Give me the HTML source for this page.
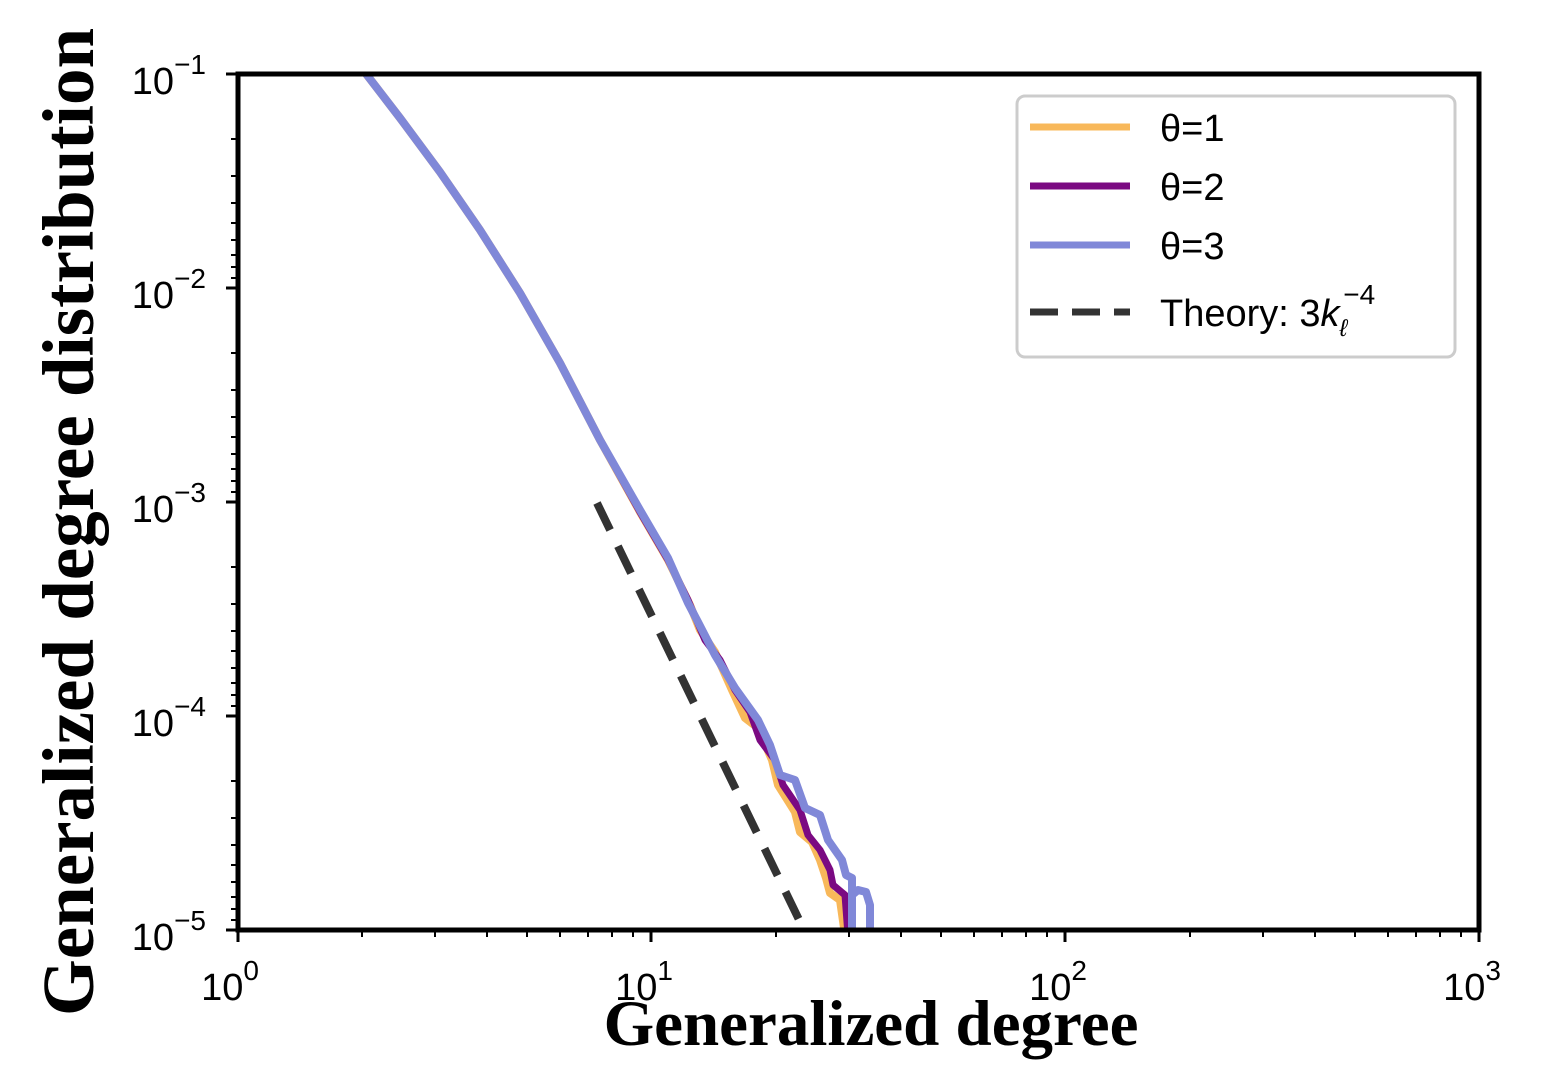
<!DOCTYPE html>
<html><head><meta charset="utf-8"><style>
html,body{margin:0;padding:0;background:#fff;}
svg{display:block;}
</style></head><body>
<svg width="1543" height="1090" xmlns="http://www.w3.org/2000/svg">
<rect width="1543" height="1090" fill="#fff"/>
<defs><clipPath id="c"><rect x="238" y="74" width="1241" height="856"/></clipPath></defs>
<g clip-path="url(#c)" fill="none" stroke-linejoin="round" stroke-linecap="butt">
<polyline stroke="#333" stroke-width="8" stroke-dasharray="30,18" points="597,503 805,932"/>
<polyline stroke="#f8b85a" stroke-width="8" points="360,66 400,118 440,172 480,230 520,293 560,363 600,440 640,512 668,560 690,605 700,630 715,652 732,690 745,718 758,728 772,760 778,785 795,812 800,832 812,842 820,860 826,878 830,893 840,900 845,935"/>
<polyline stroke="#7b0a82" stroke-width="7" points="360,66 400,118 440,172 480,230 520,293 560,363 600,440 640,512 668,560 688,600 705,640 720,660 735,690 750,712 760,740 775,760 783,785 800,810 808,835 820,850 830,870 833,885 845,895 848,935"/>
<polyline stroke="#8088d8" stroke-width="8" points="360,66 400,118 440,172 480,230 520,293 560,363 600,440 640,510 668,558 688,603 698,622 715,655 735,688 758,720 770,745 780,775 795,780 805,808 820,815 828,840 842,860 846,875 852,878 852,930"/>
<polyline stroke="#8088d8" stroke-width="8" points="852,895 858,890 866,892 870,905 870,935"/>
</g>
<rect x="238" y="74" width="1241" height="856" fill="none" stroke="#000" stroke-width="5"/>
<g stroke="#000" stroke-width="3">
<line x1="226" y1="74" x2="238" y2="74"/><line x1="226" y1="288" x2="238" y2="288"/><line x1="226" y1="502" x2="238" y2="502"/><line x1="226" y1="716" x2="238" y2="716"/><line x1="226" y1="930" x2="238" y2="930"/>
<line x1="238" y1="930" x2="238" y2="942"/><line x1="651" y1="930" x2="651" y2="942"/><line x1="1065" y1="930" x2="1065" y2="942"/><line x1="1479" y1="930" x2="1479" y2="942"/>
</g>
<g stroke="#000" stroke-width="2">
<path d="
M231,139H238 M231,176H238 M231,203H238 M231,223H238 M231,240H238 M231,255H238 M231,267H238 M231,278H238
M231,353H238 M231,390H238 M231,417H238 M231,437H238 M231,454H238 M231,469H238 M231,481H238 M231,492H238
M231,567H238 M231,604H238 M231,631H238 M231,651H238 M231,668H238 M231,683H238 M231,695H238 M231,706H238
M231,781H238 M231,818H238 M231,845H238 M231,865H238 M231,882H238 M231,897H238 M231,909H238 M231,920H238
M362,930V937 M435,930V937 M487,930V937 M527,930V937 M560,930V937 M588,930V937 M612,930V937 M633,930V937
M776,930V937 M849,930V937 M901,930V937 M941,930V937 M974,930V937 M1002,930V937 M1026,930V937 M1047,930V937
M1190,930V937 M1263,930V937 M1315,930V937 M1355,930V937 M1388,930V937 M1416,930V937 M1440,930V937 M1461,930V937"/>
</g>
<g font-family="Liberation Sans, sans-serif" font-size="38" fill="#000">
<text x="206" y="94" text-anchor="end">10<tspan dy="-20" font-size="28">−1</tspan></text>
<text x="206" y="308" text-anchor="end">10<tspan dy="-20" font-size="28">−2</tspan></text>
<text x="206" y="522" text-anchor="end">10<tspan dy="-20" font-size="28">−3</tspan></text>
<text x="206" y="736" text-anchor="end">10<tspan dy="-20" font-size="28">−4</tspan></text>
<text x="206" y="950" text-anchor="end">10<tspan dy="-20" font-size="28">−5</tspan></text>
<text x="230" y="1000" text-anchor="middle">10<tspan dy="-20" font-size="28">0</tspan></text>
<text x="644" y="1000" text-anchor="middle">10<tspan dy="-20" font-size="28">1</tspan></text>
<text x="1058" y="1000" text-anchor="middle">10<tspan dy="-20" font-size="28">2</tspan></text>
<text x="1472" y="1000" text-anchor="middle">10<tspan dy="-20" font-size="28">3</tspan></text>
</g>
<text x="871" y="1045" text-anchor="middle" font-family="Liberation Serif, serif" font-weight="bold" font-size="65">Generalized degree</text>
<text transform="translate(93,522) rotate(-90)" text-anchor="middle" font-family="Liberation Serif, serif" font-weight="bold" font-size="73">Generalized degree distribution</text>
<rect x="1017" y="96" width="438" height="261" rx="8" fill="#fff" stroke="#ccc" stroke-width="3"/>
<line x1="1030" y1="127" x2="1130" y2="127" stroke="#f8b85a" stroke-width="7"/>
<line x1="1030" y1="186" x2="1130" y2="186" stroke="#7b0a82" stroke-width="7"/>
<line x1="1030" y1="245" x2="1130" y2="245" stroke="#8088d8" stroke-width="7"/>
<line x1="1030" y1="312" x2="1130" y2="312" stroke="#333" stroke-width="7" stroke-dasharray="28,14"/>
<g font-family="Liberation Sans, sans-serif" font-size="38" fill="#000">
<text x="1160" y="141">θ=1</text>
<text x="1160" y="200">θ=2</text>
<text x="1160" y="259">θ=3</text>
<text x="1160" y="326">Theory: 3<tspan font-style="italic">k</tspan><tspan dy="10" font-size="24" font-style="italic">ℓ</tspan><tspan dy="-32" dx="-4" font-size="28">−4</tspan></text>
</g>
</svg>
</body></html>
